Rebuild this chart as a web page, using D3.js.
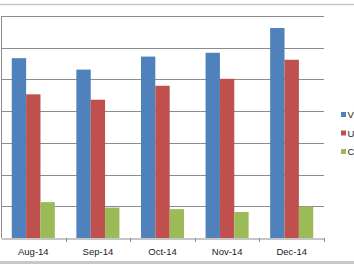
<!DOCTYPE html>
<html>
<head>
<meta charset="utf-8">
<script src="https://cdn.jsdelivr.net/npm/d3@7"></script>
<style>
  body { margin: 0; background: #fff; }
  svg { display: block; }
</style>
</head>
<body>
<script>
// data (units: one gridline = 10)
var months = ["Aug-14", "Sep-14", "Oct-14", "Nov-14", "Dec-14"];
var seriesNames = ["Visits", "Users", "Conversions"];
var visits = [56.7, 53.1, 57.2, 58.4, 66.2];
var users = [45.3, 43.6, 48.0, 50.2, 56.2];
var conversions = [11.3, 9.6, 9.1, 8.2, 9.9];
var yTicks = [0, 10, 20, 30, 40, 50, 60, 70];

var width = 354, height = 267;
var colors = ["#4F81BD", "#C0504D", "#9BBB59"];
var series = [visits, users, conversions];

var svg = d3.select("body").append("svg")
    .attr("width", width)
    .attr("height", height);

// outer frame lines
svg.append("line")
    .attr("x1", 0).attr("x2", width).attr("y1", 4.5).attr("y2", 4.5)
    .attr("stroke", "#c8c8c8").attr("stroke-width", 1.5);
svg.append("line")
    .attr("x1", 0).attr("x2", width).attr("y1", 262.5).attr("y2", 262.5)
    .attr("stroke", "#c8c8c8").attr("stroke-width", 3);

var x = d3.scaleBand()
    .domain(months)
    .range([1, 324]);

var xInner = d3.scaleBand()
    .domain(d3.range(series.length))
    .range([0, x.bandwidth()])
    .paddingOuter(0.75)
    .paddingInner(0);

var y = d3.scaleLinear()
    .domain([0, 70])
    .range([238, 16]);

// gridlines
svg.append("g")
  .selectAll("line")
  .data(yTicks.slice(1))
  .join("line")
    .attr("x1", 1).attr("x2", 324)
    .attr("y1", d => Math.round(y(d)) + 0.5)
    .attr("y2", d => Math.round(y(d)) + 0.5)
    .attr("stroke", "#8c8c8c")
    .attr("stroke-width", 1);

// bars
var groups = svg.append("g")
  .selectAll("g")
  .data(months)
  .join("g")
    .attr("transform", d => "translate(" + x(d) + ",0)");

groups.selectAll("rect")
  .data((m, i) => series.map((s, k) => ({k: k, v: s[i]})))
  .join("rect")
    .attr("x", d => xInner(d.k))
    .attr("width", xInner.bandwidth())
    .attr("y", d => y(d.v))
    .attr("height", d => y(0) - y(d.v))
    .attr("fill", d => colors[d.k]);

// x axis
var xAxis = svg.append("g")
    .attr("transform", "translate(0," + (Math.round(y(0)) + 0.5) + ")")
    .call(d3.axisBottom(x).tickSize(0));
xAxis.select(".domain").attr("stroke", "#8c8c8c");
xAxis.selectAll("text")
    .attr("dy", "1.45em")
    .attr("fill", "#222")
    .style("font-family", "'Liberation Sans', Arial, sans-serif")
    .style("font-size", "9.5px");

// tick marks between categories
svg.append("g")
  .selectAll("line")
  .data(months)
  .join("line")
    .attr("x1", d => Math.round(x(d) + x.bandwidth()) + 0.5)
    .attr("x2", d => Math.round(x(d) + x.bandwidth()) + 0.5)
    .attr("y1", y(0)).attr("y2", y(0) + 4)
    .attr("stroke", "#8c8c8c");

// y axis line
svg.append("line")
    .attr("x1", 1.5).attr("x2", 1.5)
    .attr("y1", 16).attr("y2", y(0))
    .attr("stroke", "#8c8c8c");

// legend
var legend = svg.append("g")
  .selectAll("g")
  .data(seriesNames)
  .join("g")
    .attr("transform", (d, i) => "translate(341," + (112 + i * 18.5) + ")");
legend.append("rect")
    .attr("width", 5).attr("height", 5)
    .attr("fill", (d, i) => colors[i]);
legend.append("text")
    .attr("x", 6.5).attr("y", 6)
    .attr("fill", "#222")
    .style("font-family", "'Liberation Sans', Arial, sans-serif")
    .style("font-size", "9.5px")
    .text(d => d);
</script>
</body>
</html>
